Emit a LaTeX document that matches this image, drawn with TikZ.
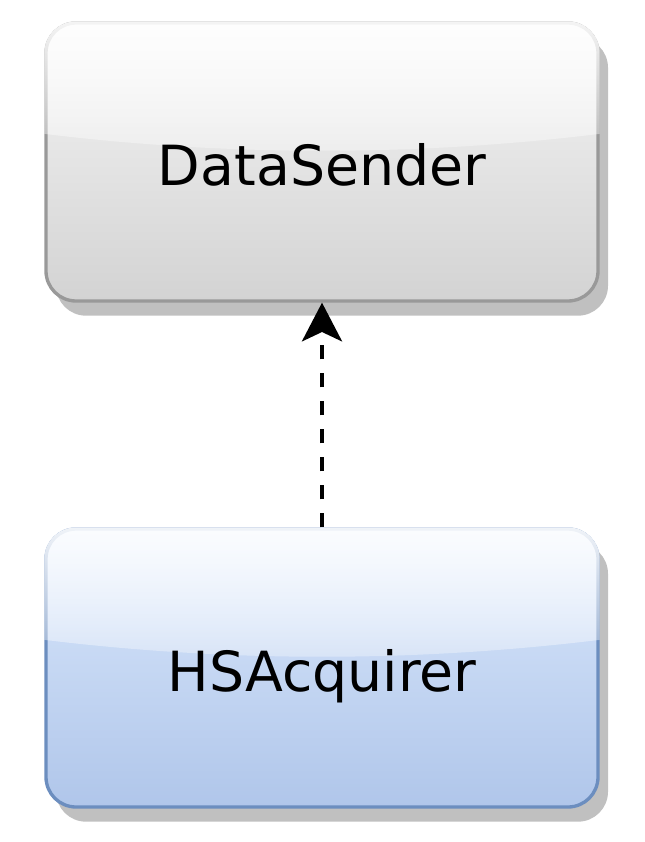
\documentclass[tikz,border=0pt]{standalone}
\usepackage{fontspec}
\setmainfont{DejaVu Sans}
\usetikzlibrary{positioning,shadows,fadings,calc,arrows.meta}
\definecolor{grayedge}{HTML}{999999}
\definecolor{graytop}{HTML}{F5F5F5}
\definecolor{graybot}{HTML}{D3D3D3}
\definecolor{blueedge}{HTML}{6C8EBF}
\definecolor{bluetop}{HTML}{DAE8FC}
\definecolor{bluebot}{HTML}{B0C6EA}
\definecolor{shadowgray}{HTML}{C0C0C0}
\tikzfading[name=glassfade, top color=transparent!10, bottom color=transparent!70]
\tikzstyle{classbox} = [rectangle, rounded corners=22.5pt, minimum width=414pt, minimum height=208.5pt, line width=2.5pt, drop shadow={shadow xshift=7.5pt, shadow yshift=-11pt, fill=shadowgray, opacity=1}]
\tikzstyle{classname} = [text centered, text height=35pt, text depth=0pt, font=\fontsize{41.5}{48}\selectfont]
\tikzstyle{glass} = [fill=white, path fading=glassfade]
\tikzstyle{dependency} = [line width=3pt, dash pattern=on 11pt off 10pt, -{Stealth[length=29pt,width=30pt,inset=7pt]}]
% glossy top part of a box
\newcommand{\glassover}[1]{%
  \begin{scope}
    \clip[rounded corners=23.75pt] (#1.north west) rectangle (#1.south east);
    \fill[glass] let \p1=(#1.north west), \p2=(#1.south east) in
      (\x1,\y1) -- (\x1,{\y1+0.4*(\y2-\y1)})
      .. controls ({\x1+(\x2-\x1)/3},{\y1+0.48*(\y2-\y1)}) and ({\x1+2*(\x2-\x1)/3},{\y1+0.48*(\y2-\y1)}) .. (\x2,{\y1+0.4*(\y2-\y1)})
      -- (\x2,\y1) -- cycle;
  \end{scope}}

\begin{document}
\begin{tikzpicture}[x=0.75pt,y=-0.75pt,node distance=379.5pt,on grid]
    \useasboundingbox (0,0) rectangle (644,842);
   	\node[classbox, draw=grayedge, top color=graytop, bottom color=graybot] (c_send) at (322,162) {};
   	\node[classbox, draw=blueedge, top color=bluetop, bottom color=bluebot] (c_acq) [below=of c_send] {};
    \glassover{c_send}
    \glassover{c_acq}
    \node[classname] (n_send) at (c_send) {DataSender};
    \node[classname] (n_acq) at (c_acq) {HSAcquirer};
    \path[dependency]
    (c_acq) edge (c_send);
\end{tikzpicture}
\end{document}
